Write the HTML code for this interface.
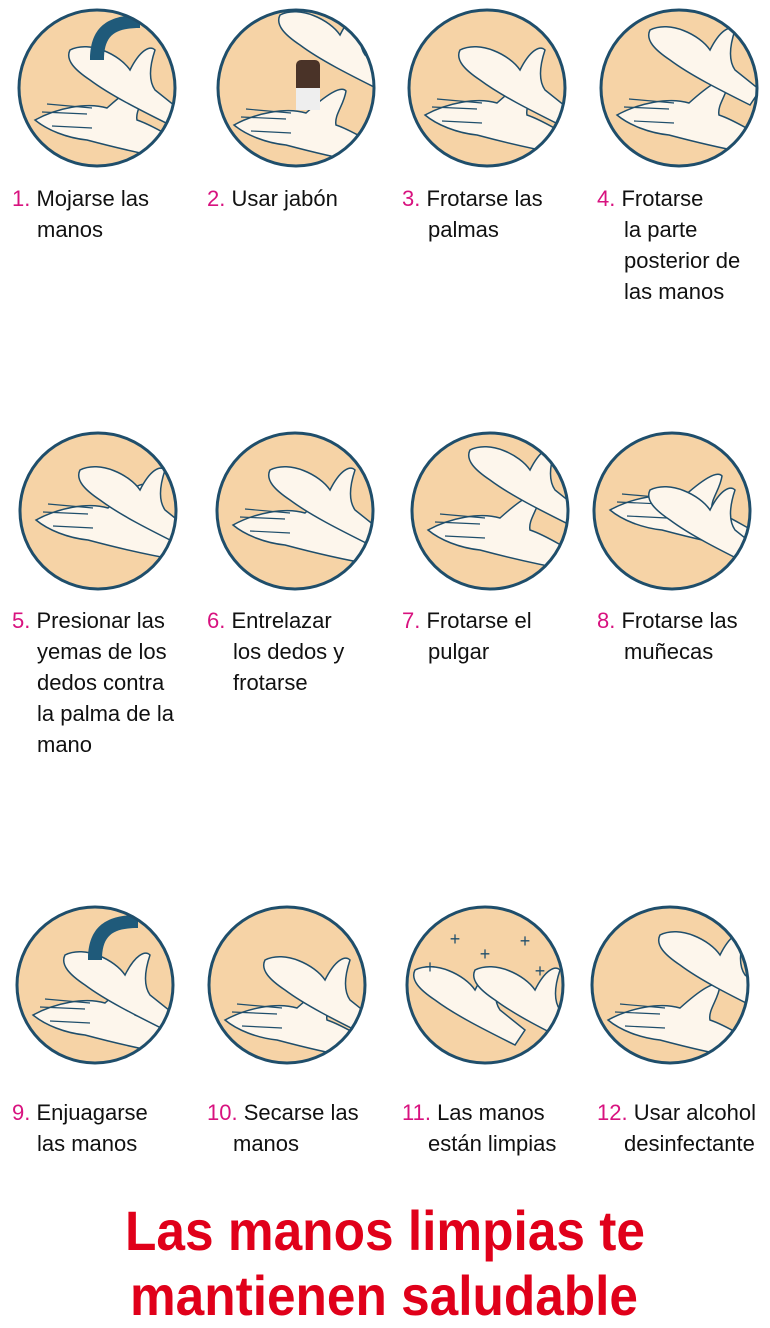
<!DOCTYPE html>
<html><head><meta charset="utf-8"><style>
html,body{margin:0;padding:0;background:#fff;width:770px;height:1328px;overflow:hidden}
svg{display:block}
.l{font-family:"Liberation Sans",sans-serif;font-size:22px;fill:#111}
.n{fill:#d8127f}
.t{font-family:"Liberation Sans",sans-serif;font-weight:bold;font-size:56px;fill:#e0001a}
</style></head><body>
<svg width="770" height="1328" viewBox="0 0 770 1328">
<defs>
<clipPath id="c"><circle cx="0" cy="0" r="77"/></clipPath>
<g id="hand">
<path d="M-62,20 C-40,8 -10,2 10,8 C30,-10 45,-20 50,-14 C48,0 38,10 40,20 C55,25 70,35 80,40 L80,60 C50,55 20,48 -10,40 C-30,38 -50,30 -62,20 Z" fill="#fdf6ec" stroke="#1f4e6b" stroke-width="1.5"/>
<path d="M-55,12 L-10,14 M-50,4 L-5,8 M-45,26 L-5,28" stroke="#1f4e6b" stroke-width="1.2" fill="none"/>
</g>
<g id="hand2">
<path d="M-40,-30 C-20,-40 10,-25 20,-10 C30,-30 40,-35 45,-30 C40,-15 38,0 45,10 L70,30 L60,45 C30,30 0,15 -20,0 C-35,-10 -45,-20 -40,-30 Z" fill="#fdf6ec" stroke="#1f4e6b" stroke-width="1.5"/>
</g>
<circle id="bg" cx="0" cy="0" r="78" fill="#f6d3a6"/>
<circle id="ring" cx="0" cy="0" r="78" fill="none" stroke="#1f4e6b" stroke-width="3"/>
</defs>

<g transform="translate(97,88)"><use href="#bg"/><g clip-path="url(#c)"><use href="#hand" x="0" y="12"/><use href="#hand2" x="13" y="-8"/>
<path d="M-7,-28 C-7,-63 13,-73 43,-73 L43,-60 C18,-60 7,-53 7,-28 Z" fill="#1f5a7a"/></g><use href="#ring"/></g>

<g transform="translate(296,88)"><use href="#bg"/><g clip-path="url(#c)"><use href="#hand" x="0" y="17"/><use href="#hand2" x="24" y="-43"/>
<rect x="0" y="-28" width="24" height="50" rx="5" fill="#4a3328"/><rect x="0" y="0" width="24" height="22" fill="#eee"/></g><use href="#ring"/></g>

<g transform="translate(487,88)"><use href="#bg"/><g clip-path="url(#c)"><use href="#hand" x="0" y="7"/><use href="#hand2" x="13" y="-8"/></g><use href="#ring"/></g>

<g transform="translate(679,88)"><use href="#bg"/><g clip-path="url(#c)"><use href="#hand" x="0" y="7"/><use href="#hand2" x="11" y="-28"/></g><use href="#ring"/></g>

<g transform="translate(98,511)"><use href="#bg"/><g clip-path="url(#c)"><use href="#hand" x="0" y="-11"/><use href="#hand2" x="22" y="-11"/></g><use href="#ring"/></g>

<g transform="translate(295,511)"><use href="#bg"/><g clip-path="url(#c)"><use href="#hand" x="0" y="-6"/><use href="#hand2" x="15" y="-11"/></g><use href="#ring"/></g>

<g transform="translate(490,511)"><use href="#bg"/><g clip-path="url(#c)"><use href="#hand" x="0" y="-1"/><use href="#hand2" x="20" y="-31"/></g><use href="#ring"/></g>

<g transform="translate(672,511)"><use href="#bg"/><g clip-path="url(#c)"><use href="#hand" x="0" y="-21"/><use href="#hand2" x="18" y="9"/></g><use href="#ring"/></g>

<g transform="translate(95,985)"><use href="#bg"/><g clip-path="url(#c)"><use href="#hand" x="0" y="10"/><use href="#hand2" x="10" y="0"/>
<path d="M-7,-25 C-7,-60 13,-70 43,-70 L43,-57 C18,-57 7,-50 7,-25 Z" fill="#1f5a7a"/></g><use href="#ring"/></g>

<g transform="translate(287,985)"><use href="#bg"/><g clip-path="url(#c)"><use href="#hand" x="0" y="15"/><use href="#hand2" x="18" y="5"/></g><use href="#ring"/></g>

<g transform="translate(485,985)"><use href="#bg"/><g clip-path="url(#c)"><use href="#hand2" x="-30" y="15"/><use href="#hand2" x="30" y="15"/>
<g fill="#1f4e6b" font-family="Liberation Sans,sans-serif" font-size="18" text-anchor="middle"><text x="-30" y="-40">+</text><text x="0" y="-25">+</text><text x="40" y="-38">+</text><text x="-55" y="-12">+</text><text x="55" y="-8">+</text></g></g><use href="#ring"/></g>

<g transform="translate(670,985)"><use href="#bg"/><g clip-path="url(#c)"><use href="#hand" x="0" y="15"/><use href="#hand2" x="30" y="-20"/></g><use href="#ring"/></g>

<g class="l">
<text x="12" y="206"><tspan class="n">1.</tspan> Mojarse las</text><text x="37" y="237">manos</text>
<text x="207" y="206"><tspan class="n">2.</tspan> Usar jabón</text>
<text x="402" y="206"><tspan class="n">3.</tspan> Frotarse las</text><text x="428" y="237">palmas</text>
<text x="597" y="206"><tspan class="n">4.</tspan> Frotarse</text><text x="624" y="237">la parte</text><text x="624" y="268">posterior de</text><text x="624" y="299">las manos</text>
<text x="12" y="628"><tspan class="n">5.</tspan> Presionar las</text><text x="37" y="659">yemas de los</text><text x="37" y="690">dedos contra</text><text x="37" y="721">la palma de la</text><text x="37" y="752">mano</text>
<text x="207" y="628"><tspan class="n">6.</tspan> Entrelazar</text><text x="233" y="659">los dedos y</text><text x="233" y="690">frotarse</text>
<text x="402" y="628"><tspan class="n">7.</tspan> Frotarse el</text><text x="428" y="659">pulgar</text>
<text x="597" y="628"><tspan class="n">8.</tspan> Frotarse las</text><text x="624" y="659">muñecas</text>
<text x="12" y="1120"><tspan class="n">9.</tspan> Enjuagarse</text><text x="37" y="1151">las manos</text>
<text x="207" y="1120"><tspan class="n">10.</tspan> Secarse las</text><text x="233" y="1151">manos</text>
<text x="402" y="1120"><tspan class="n">11.</tspan> Las manos</text><text x="428" y="1151">están limpias</text>
<text x="597" y="1120"><tspan class="n">12.</tspan> Usar alcohol</text><text x="624" y="1151">desinfectante</text>
</g>
<text class="t" x="125" y="1250" textLength="520" lengthAdjust="spacingAndGlyphs">Las manos limpias te</text>
<text class="t" x="130" y="1315" textLength="508" lengthAdjust="spacingAndGlyphs">mantienen saludable</text>
</svg>
</body></html>
